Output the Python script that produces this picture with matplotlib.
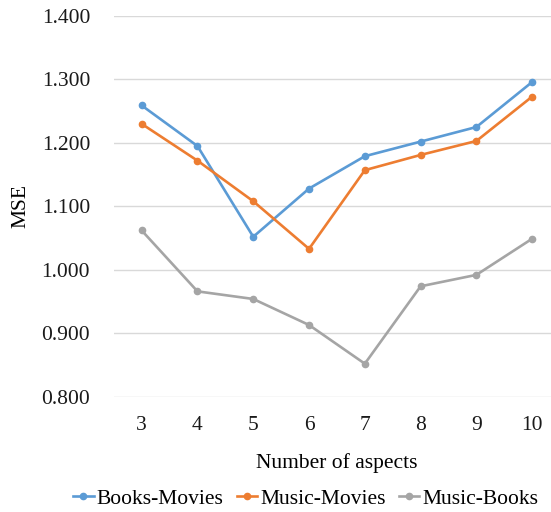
import matplotlib
matplotlib.use("Agg")
import matplotlib.pyplot as plt

plt.rcParams['font.family'] = ['Liberation Serif', 'DejaVu Serif']

aspects = [3, 4, 5, 6, 7, 8, 9, 10]
books_movies = [1.259, 1.195, 1.052, 1.128, 1.179, 1.202, 1.225, 1.296]
music_movies = [1.230, 1.172, 1.108, 1.033, 1.157, 1.181, 1.203, 1.273]
music_books = [1.062, 0.966, 0.954, 0.913, 0.852, 0.974, 0.992, 1.049]
yticks = [0.8, 0.9, 1.0, 1.1, 1.2, 1.3, 1.4]

series = [
    ("Books-Movies", books_movies, "#5B9BD5"),
    ("Music-Movies", music_movies, "#ED7D31"),
    ("Music-Books", music_books, "#A5A5A5"),
]

fs = 15.5

fig = plt.figure(figsize=(5.51, 5.12), dpi=100)
ax = fig.add_axes([0.2065, 0.2252, 0.810, 0.7436])

pos = list(range(len(aspects)))
for name, vals, col in series:
    ax.plot(pos, vals, color=col, lw=1.9, marker="o", ms=4.5, label=name)

ax.set_xlim(-0.5, len(aspects) - 0.5)
ax.set_ylim(0.8, 1.4)
ax.set_xticks(pos)
ax.set_xticklabels([str(a) for a in aspects])
ax.set_yticks(yticks)
ax.set_yticklabels([f"{v:.3f}" for v in yticks])
ax.grid(axis="y", color="#D9D9D9", lw=1.0)
ax.set_axisbelow(True)
for s in ax.spines.values():
    s.set_visible(False)
ax.tick_params(length=0, labelsize=fs, colors="#1a1a1a", pad=14)
ax.tick_params(axis="y", pad=17)

ax.set_ylabel("MSE", fontsize=fs, labelpad=8)
ax.set_xlabel("Number of aspects", fontsize=fs, labelpad=13)

fig.legend(loc="center", bbox_to_anchor=(0.555, 0.026), ncol=3, frameon=False,
           fontsize=fs, handlelength=0.95, handletextpad=0.15, columnspacing=0.6)

fig.savefig("out.png", dpi=100)
